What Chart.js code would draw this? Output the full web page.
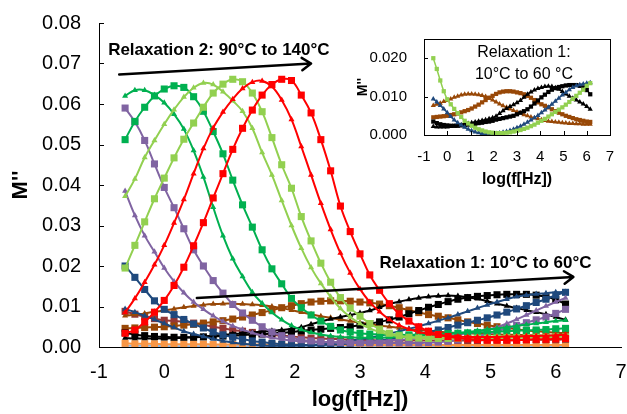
<!DOCTYPE html>
<html>
<head>
<meta charset="utf-8">
<script src="https://cdn.jsdelivr.net/npm/chart.js@4.4.1/dist/chart.umd.min.js"></script>
<style>
  body { margin: 0; background: #fff; }
  #wrap { position: relative; width: 627px; height: 414px; }
  #main { position: absolute; left: 0; top: 0; }
  #inset { position: absolute; left: 355px; top: 21px; background: #fff; }
</style>
</head>
<body>
<div id="wrap">
  <canvas id="main" width="627" height="414"></canvas>
  <canvas id="inset" width="265" height="175"></canvas>
</div>
<script>
// log10 of the measuring frequency (Hz)
const logF = [-0.6, -0.45, -0.3, -0.15, 0, 0.15, 0.3, 0.45, 0.6, 0.75,
  0.9, 1.05, 1.2, 1.35, 1.5, 1.65, 1.8, 1.95, 2.1, 2.25,
  2.4, 2.55, 2.7, 2.85, 3, 3.15, 3.3, 3.45, 3.6, 3.75,
  3.9, 4.05, 4.2, 4.35, 4.5, 4.65, 4.8, 4.95, 5.1, 5.25,
  5.4, 5.55, 5.7, 5.85, 6, 6.15];

// M'' spectra, one array per temperature
const redSq = [0.0034, 0.0042, 0.0062, 0.0086, 0.0115, 0.0152, 0.0197, 0.0250, 0.0307, 0.0368,
  0.0428, 0.0488, 0.0540, 0.0585, 0.0622, 0.0648, 0.0661, 0.0658, 0.0622, 0.0578,
  0.0512, 0.0435, 0.0348, 0.0285, 0.0230, 0.0178, 0.0140, 0.0107, 0.0082, 0.0064,
  0.0050, 0.0039, 0.0031, 0.0026, 0.0022, 0.0020, 0.0018, 0.0017, 0.0017, 0.0017,
  0.0017, 0.0018, 0.0019, 0.0019, 0.0020, 0.0021];
const redTri = [0.0085, 0.0120, 0.0160, 0.0203, 0.0251, 0.0306, 0.0364, 0.0428, 0.0490, 0.0541,
  0.0580, 0.0612, 0.0638, 0.0654, 0.0657, 0.0643, 0.0610, 0.0562, 0.0495, 0.0425,
  0.0355, 0.0290, 0.0232, 0.0183, 0.0143, 0.0111, 0.0087, 0.0068, 0.0054, 0.0044,
  0.0037, 0.0032, 0.0029, 0.0027, 0.0026, 0.0025, 0.0025, 0.0025, 0.0025, 0.0026,
  0.0026, 0.0027, 0.0027, 0.0028, 0.0029, 0.0030];
const limeSq = [0.0195, 0.0251, 0.0309, 0.0366, 0.0417, 0.0467, 0.0513, 0.0553, 0.0592, 0.0627,
  0.0649, 0.0661, 0.0655, 0.0627, 0.0581, 0.0517, 0.0450, 0.0392, 0.0322, 0.0262,
  0.0207, 0.0160, 0.0122, 0.0096, 0.0076, 0.0058, 0.0044, 0.0034, 0.0028, 0.0024,
  0.0022, 0.0021, 0.0021, 0.0021, 0.0021, 0.0021, 0.0022, 0.0022, 0.0022, 0.0023,
  0.0023, 0.0023, 0.0024, 0.0024, 0.0025, 0.0025];
const limeTri = [0.0372, 0.0415, 0.0468, 0.0510, 0.0550, 0.0586, 0.0617, 0.0640, 0.0652, 0.0648,
  0.0630, 0.0608, 0.0582, 0.0540, 0.0480, 0.0425, 0.0362, 0.0300, 0.0244, 0.0196,
  0.0157, 0.0124, 0.0095, 0.0074, 0.0058, 0.0046, 0.0037, 0.0031, 0.0027, 0.0025,
  0.0024, 0.0024, 0.0024, 0.0024, 0.0024, 0.0025, 0.0025, 0.0025, 0.0026, 0.0026,
  0.0026, 0.0027, 0.0027, 0.0027, 0.0028, 0.0028];
const greenSq = [0.0512, 0.0557, 0.0592, 0.0620, 0.0637, 0.0645, 0.0641, 0.0618, 0.0582, 0.0532,
  0.0477, 0.0412, 0.0351, 0.0296, 0.0240, 0.0193, 0.0156, 0.0120, 0.0097, 0.0079,
  0.0064, 0.0051, 0.0042, 0.0037, 0.0034, 0.0032, 0.0031, 0.0030, 0.0030, 0.0030,
  0.0031, 0.0031, 0.0032, 0.0033, 0.0034, 0.0035, 0.0036, 0.0037, 0.0038, 0.0039,
  0.0040, 0.0041, 0.0042, 0.0043, 0.0045, 0.0046];
const greenTri = [0.0620, 0.0634, 0.0634, 0.0622, 0.0603, 0.0575, 0.0538, 0.0485, 0.0420, 0.0345,
  0.0275, 0.0218, 0.0174, 0.0135, 0.0108, 0.0085, 0.0067, 0.0053, 0.0043, 0.0036,
  0.0031, 0.0027, 0.0025, 0.0024, 0.0023, 0.0023, 0.0023, 0.0024, 0.0025, 0.0026,
  0.0027, 0.0029, 0.0031, 0.0033, 0.0035, 0.0037, 0.0040, 0.0043, 0.0046, 0.0049,
  0.0052, 0.0055, 0.0058, 0.0061, 0.0064, 0.0066];
const purpleSq = [0.0590, 0.0556, 0.0510, 0.0452, 0.0394, 0.0344, 0.0292, 0.0240, 0.0200, 0.0164,
  0.0133, 0.0105, 0.0084, 0.0066, 0.0050, 0.0037, 0.0028, 0.0022, 0.0018, 0.0015,
  0.0013, 0.0012, 0.0011, 0.0010, 0.0010, 0.0010, 0.0010, 0.0010, 0.0010, 0.0010,
  0.0010, 0.0011, 0.0012, 0.0014, 0.0017, 0.0021, 0.0026, 0.0032, 0.0039, 0.0046,
  0.0053, 0.0060, 0.0067, 0.0074, 0.0083, 0.0093];
const purpleTri = [0.0385, 0.0325, 0.0275, 0.0235, 0.0195, 0.0162, 0.0134, 0.0111, 0.0093, 0.0077,
  0.0063, 0.0052, 0.0043, 0.0035, 0.0028, 0.0023, 0.0019, 0.0016, 0.0014, 0.0013,
  0.0012, 0.0012, 0.0012, 0.0013, 0.0013, 0.0014, 0.0015, 0.0016, 0.0018, 0.0019,
  0.0021, 0.0023, 0.0025, 0.0027, 0.0030, 0.0034, 0.0038, 0.0043, 0.0049, 0.0058,
  0.0068, 0.0079, 0.0090, 0.0101, 0.0111, 0.0121];
const blueSq = [0.0200, 0.0172, 0.0142, 0.0114, 0.0093, 0.0080, 0.0068, 0.0057, 0.0047, 0.0037,
  0.0030, 0.0024, 0.0019, 0.0015, 0.0012, 0.0009, 0.0007, 0.0006, 0.0005, 0.0005,
  0.0005, 0.0006, 0.0007, 0.0009, 0.0011, 0.0013, 0.0016, 0.0019, 0.0023, 0.0027,
  0.0032, 0.0037, 0.0042, 0.0048, 0.0054, 0.0060, 0.0066, 0.0072, 0.0079, 0.0086,
  0.0094, 0.0102, 0.0110, 0.0118, 0.0128, 0.0135];
const blueTri = [0.0094, 0.0086, 0.0077, 0.0068, 0.0058, 0.0048, 0.0039, 0.0032, 0.0026, 0.0020,
  0.0015, 0.0011, 0.0008, 0.0006, 0.0004, 0.0003, 0.0003, 0.0003, 0.0004, 0.0005,
  0.0007, 0.0009, 0.0012, 0.0015, 0.0019, 0.0023, 0.0028, 0.0033, 0.0039, 0.0045,
  0.0051, 0.0058, 0.0065, 0.0072, 0.0080, 0.0088, 0.0096, 0.0104, 0.0111, 0.0118,
  0.0124, 0.0128, 0.0131, 0.0133, 0.0135, 0.0136];
const blackSq = [0.0035, 0.0031, 0.0028, 0.0026, 0.0025, 0.0024, 0.0024, 0.0024, 0.0025, 0.0026,
  0.0027, 0.0028, 0.0029, 0.0031, 0.0032, 0.0034, 0.0035, 0.0037, 0.0040, 0.0042,
  0.0044, 0.0046, 0.0048, 0.0050, 0.0054, 0.0058, 0.0062, 0.0067, 0.0074, 0.0082,
  0.0090, 0.0098, 0.0105, 0.0112, 0.0118, 0.0122, 0.0125, 0.0127, 0.0129, 0.0130,
  0.0130, 0.0130, 0.0128, 0.0124, 0.0117, 0.0106];
const blackTri = [0.0022, 0.0021, 0.0021, 0.0021, 0.0021, 0.0022, 0.0023, 0.0024, 0.0026, 0.0028,
  0.0030, 0.0032, 0.0034, 0.0036, 0.0038, 0.0040, 0.0042, 0.0045, 0.0049, 0.0056,
  0.0063, 0.0069, 0.0074, 0.0079, 0.0084, 0.0090, 0.0098, 0.0106, 0.0112, 0.0117,
  0.0121, 0.0124, 0.0126, 0.0127, 0.0126, 0.0123, 0.0119, 0.0113, 0.0107, 0.0101,
  0.0096, 0.0091, 0.0086, 0.0081, 0.0074, 0.0067];
const brownTri = [0.0077, 0.0080, 0.0083, 0.0087, 0.0090, 0.0094, 0.0098, 0.0101, 0.0104, 0.0106,
  0.0107, 0.0107, 0.0106, 0.0105, 0.0103, 0.0100, 0.0096, 0.0091, 0.0086, 0.0081,
  0.0076, 0.0072, 0.0068, 0.0064, 0.0060, 0.0057, 0.0053, 0.0050, 0.0047, 0.0044,
  0.0042, 0.0040, 0.0038, 0.0036, 0.0035, 0.0034, 0.0033, 0.0032, 0.0031, 0.0030,
  0.0030, 0.0029, 0.0029, 0.0028, 0.0028, 0.0028];
const brownSq = [0.0046, 0.0047, 0.0048, 0.0049, 0.0050, 0.0052, 0.0054, 0.0056, 0.0059, 0.0062,
  0.0065, 0.0069, 0.0074, 0.0079, 0.0085, 0.0091, 0.0097, 0.0102, 0.0107, 0.0111,
  0.0113, 0.0114, 0.0114, 0.0113, 0.0111, 0.0109, 0.0106, 0.0102, 0.0097, 0.0091,
  0.0085, 0.0080, 0.0076, 0.0072, 0.0067, 0.0062, 0.0058, 0.0054, 0.0050, 0.0047,
  0.0044, 0.0041, 0.0039, 0.0037, 0.0035, 0.0034];
const maroonSq = [0.0088, 0.0081, 0.0075, 0.0070, 0.0066, 0.0064, 0.0062, 0.0059, 0.0055, 0.0050,
  0.0046, 0.0042, 0.0039, 0.0036, 0.0033, 0.0030, 0.0028, 0.0026, 0.0024, 0.0022,
  0.0021, 0.0020, 0.0019, 0.0018, 0.0017, 0.0017, 0.0016, 0.0016, 0.0016, 0.0016,
  0.0016, 0.0016, 0.0016, 0.0016, 0.0016, 0.0016, 0.0016, 0.0017, 0.0017, 0.0017,
  0.0017, 0.0018, 0.0018, 0.0018, 0.0018, 0.0019];
const orangeSq = [0.0009, 0.0008, 0.0008, 0.0008, 0.0007, 0.0007, 0.0007, 0.0007, 0.0007, 0.0006,
  0.0006, 0.0006, 0.0006, 0.0006, 0.0006, 0.0006, 0.0006, 0.0006, 0.0005, 0.0005,
  0.0005, 0.0005, 0.0005, 0.0005, 0.0005, 0.0005, 0.0005, 0.0005, 0.0005, 0.0005,
  0.0005, 0.0005, 0.0005, 0.0005, 0.0005, 0.0005, 0.0005, 0.0005, 0.0005, 0.0005,
  0.0005, 0.0005, 0.0005, 0.0005, 0.0005, 0.0005];
const steelSq = [0.0003, 0.0003, 0.0003, 0.0003, 0.0002, 0.0002, 0.0002, 0.0002, 0.0002, 0.0002,
  0.0002, 0.0002, 0.0002, 0.0002, 0.0002, 0.0002, 0.0002, 0.0002, 0.0002, 0.0002,
  0.0002, 0.0002, 0.0002, 0.0002, 0.0002, 0.0002, 0.0002, 0.0002, 0.0002, 0.0002,
  0.0002, 0.0002, 0.0002, 0.0002, 0.0002, 0.0002, 0.0002, 0.0002, 0.0002, 0.0002,
  0.0002, 0.0002, 0.0002, 0.0002, 0.0002, 0.0002];

const xTicks = [-1, 0, 1, 2, 3, 4, 5, 6, 7];

const FONT = "'Liberation Sans', Arial, sans-serif";
const RED = '#FF0000', LIME = '#92D050', GREEN = '#00B050', PURPLE = '#8064A2',
  BLUE = '#1F497D', BLACK = '#000000', BROWN = '#984807', MAROON = '#953735',
  ORANGE = '#F79646', STEEL = '#8EB4E3';

// annotation text and arrows, placed in data units
const relax2Label = { text: 'Relaxation 2: 90°C to 140°C', x: -0.86, y: 0.0720 };
const relax1Label = { text: 'Relaxation 1: 10°C to 60°C', x: 3.30, y: 0.0194 };
const relax2Arrow = { from: [-0.69, 0.0673], to: [2.25, 0.0700] };
const relax1Arrow = { from: [0.50, 0.0121], to: [6.27, 0.0173] };

function series(values, color, shape, radius, width) {
  return {
    data: logF.map((f, i) => ({ x: f, y: values[i] })),
    borderColor: color,
    backgroundColor: color,
    pointBackgroundColor: color,
    pointBorderColor: color,
    pointBorderWidth: 0,
    pointStyle: shape,
    pointRadius: radius,
    borderWidth: width,
    tension: 0.4,
    fill: false
  };
}

// keep the plot box exactly where the layout puts it
function fixBox(size, horizontal) {
  return s => {
    if (horizontal) s.height = size; else s.width = size;
    s.paddingLeft = s.paddingRight = s.paddingTop = s.paddingBottom = 0;
  };
}

// short tick marks pointing into the plot
function innerTicks(scale, len, horizontal) {
  const ctx = scale.ctx;
  const area = scale.chart.chartArea;
  ctx.save();
  ctx.strokeStyle = '#000';
  ctx.lineWidth = 1;
  scale.ticks.forEach(t => {
    const p = Math.round(scale.getPixelForValue(t.value)) + 0.5;
    ctx.beginPath();
    if (horizontal) {
      ctx.moveTo(p, area.bottom);
      ctx.lineTo(p, area.bottom - len);
    } else {
      ctx.moveTo(area.left, p);
      ctx.lineTo(area.left + len, p);
    }
    ctx.stroke();
  });
  ctx.restore();
}

function arrow(ctx, x, y, a) {
  const x0 = x.getPixelForValue(a.from[0]), y0 = y.getPixelForValue(a.from[1]);
  const x1 = x.getPixelForValue(a.to[0]), y1 = y.getPixelForValue(a.to[1]);
  const ang = Math.atan2(y1 - y0, x1 - x0);
  ctx.beginPath();
  ctx.moveTo(x0, y0);
  ctx.lineTo(x1, y1);
  ctx.moveTo(x1 - 11 * Math.cos(ang - 0.6), y1 - 11 * Math.sin(ang - 0.6));
  ctx.lineTo(x1, y1);
  ctx.lineTo(x1 - 11 * Math.cos(ang + 0.6), y1 - 11 * Math.sin(ang + 0.6));
  ctx.stroke();
}

const mainExtras = {
  id: 'mainExtras',
  afterDatasetsDraw(chart) {
    const { ctx, scales: { x, y } } = chart;
    innerTicks(y, 5, false);
    ctx.save();
    ctx.strokeStyle = '#000';
    ctx.lineWidth = 2.5;
    ctx.lineCap = 'round';
    ctx.lineJoin = 'round';
    arrow(ctx, x, y, relax2Arrow);
    arrow(ctx, x, y, relax1Arrow);
    ctx.fillStyle = '#000';
    ctx.font = 'bold 17px ' + FONT;
    ctx.textBaseline = 'alphabetic';
    [relax2Label, relax1Label].forEach(l => {
      ctx.fillText(l.text, x.getPixelForValue(l.x), y.getPixelForValue(l.y));
    });
    ctx.restore();
  }
};

new Chart(document.getElementById('main'), {
  type: 'line',
  data: {
    datasets: [
      series(redSq, RED, 'rect', 5, 2),
      series(redTri, RED, 'triangle', 3.5, 2),
      series(limeSq, LIME, 'rect', 5, 2),
      series(limeTri, LIME, 'triangle', 3.5, 2),
      series(greenSq, GREEN, 'rect', 5, 2),
      series(greenTri, GREEN, 'triangle', 3.5, 2),
      series(purpleSq, PURPLE, 'rect', 5, 2),
      series(purpleTri, PURPLE, 'triangle', 3.5, 2),
      series(blueSq, BLUE, 'rect', 5, 2),
      series(blueTri, BLUE, 'triangle', 3.5, 2),
      series(blackSq, BLACK, 'rect', 5, 2),
      series(blackTri, BLACK, 'triangle', 3.5, 2),
      series(brownSq, BROWN, 'rect', 5, 2),
      series(brownTri, BROWN, 'triangle', 3.5, 2),
      series(maroonSq, MAROON, 'rect', 5, 2),
      series(orangeSq, ORANGE, 'rect', 5, 2),
      series(steelSq, STEEL, 'rect', 4, 2)
    ]
  },
  options: {
    responsive: false,
    animation: false,
    devicePixelRatio: 1,
    layout: { padding: { left: 0, right: 6, top: 23, bottom: 0 } },
    plugins: { legend: { display: false }, tooltip: { enabled: false } },
    scales: {
      x: {
        type: 'linear',
        min: -1,
        max: 7,
        afterBuildTicks: s => { s.ticks = xTicks.map(v => ({ value: v })); },
        afterFit: fixBox(67, true),
        ticks: { font: { family: FONT, size: 20 }, color: '#000', padding: 13, maxRotation: 0 },
        grid: { drawOnChartArea: false, drawTicks: false },
        border: { color: '#000', width: 1 },
        title: {
          display: true, text: 'log(f[Hz])', color: '#000',
          font: { family: FONT, size: 22, weight: 'bold' }, padding: { top: 0, bottom: 1 }
        }
      },
      y: {
        min: 0,
        max: 0.08,
        afterFit: fixBox(99, false),
        ticks: {
          stepSize: 0.01, font: { family: FONT, size: 20 }, color: '#000', padding: 18,
          callback: v => v.toFixed(2)
        },
        grid: { drawOnChartArea: false, drawTicks: false },
        border: { color: '#000', width: 1 },
        title: {
          display: true, text: "M''", color: '#000',
          font: { family: FONT, size: 22, weight: 'bold' }, padding: { top: 8, bottom: 0 }
        }
      }
    }
  },
  plugins: [mainExtras]
});

// inset: the low temperature relaxation on a finer scale
const insetExtras = {
  id: 'insetExtras',
  afterDatasetsDraw(chart) {
    const { ctx, chartArea: a, scales: { x, y } } = chart;
    innerTicks(x, 4, true);
    innerTicks(y, 4, false);
    ctx.save();
    ctx.strokeStyle = '#000';
    ctx.lineWidth = 1;
    ctx.strokeRect(Math.round(a.left) + 0.5, Math.round(a.top) + 0.5,
      Math.round(a.right - a.left), Math.round(a.bottom - a.top));
    ctx.fillStyle = '#000';
    ctx.font = '16px ' + FONT;
    ctx.textAlign = 'center';
    const cx = x.getPixelForValue(3.3);
    ctx.fillText('Relaxation 1:', cx, y.getPixelForValue(0.0204));
    ctx.fillText('10°C to 60 °C', cx, y.getPixelForValue(0.0146));
    ctx.restore();
  }
};

new Chart(document.getElementById('inset'), {
  type: 'line',
  data: {
    datasets: [
      series(blueSq, LIME, 'rect', 3, 1.5),
      series(blueTri, BLUE, 'triangle', 3, 1.5),
      series(blackSq, BLACK, 'rect', 3, 1.5),
      series(blackTri, BLACK, 'triangle', 3, 1.5),
      series(brownSq, BROWN, 'rect', 3, 1.5),
      series(brownTri, BROWN, 'triangle', 3, 1.5)
    ]
  },
  options: {
    responsive: false,
    animation: false,
    devicePixelRatio: 1,
    layout: { padding: { left: 0, right: 10, top: 18, bottom: 0 } },
    plugins: { legend: { display: false }, tooltip: { enabled: false } },
    scales: {
      x: {
        type: 'linear',
        min: -1,
        max: 7,
        afterBuildTicks: s => { s.ticks = xTicks.map(v => ({ value: v })); },
        afterFit: fixBox(61, true),
        ticks: { font: { family: FONT, size: 15 }, color: '#000', padding: 13, maxRotation: 0 },
        grid: { drawOnChartArea: false, drawTicks: false },
        border: { display: false },
        title: {
          display: true, text: 'log(f[Hz])', color: '#000',
          font: { family: FONT, size: 16, weight: 'bold' }, padding: { top: 0, bottom: 7 }
        }
      },
      y: {
        min: 0,
        max: 0.025,
        afterFit: fixBox(69, false),
        ticks: {
          stepSize: 0.01, includeBounds: false, font: { family: FONT, size: 15 }, color: '#000', padding: 17,
          callback: v => v.toFixed(3)
        },
        grid: { drawOnChartArea: false, drawTicks: false },
        border: { display: false },
        title: {
          display: true, text: "M''", color: '#000',
          font: { family: FONT, size: 14, weight: 'bold' }, padding: { top: 0, bottom: 0 }
        }
      }
    }
  },
  plugins: [insetExtras]
});
</script>
</body>
</html>
